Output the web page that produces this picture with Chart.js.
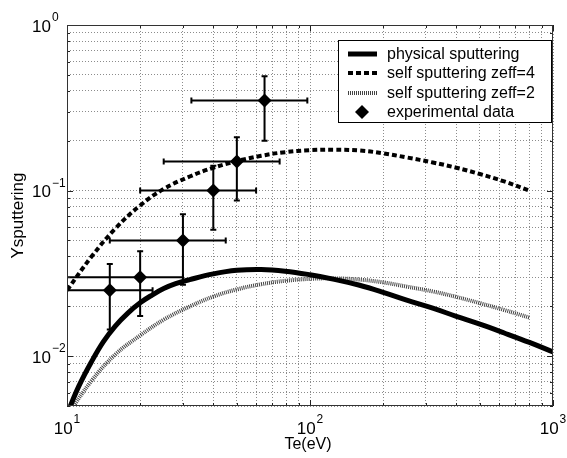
<!DOCTYPE html>
<html>
<head>
<meta charset="utf-8">
<title>Ysputtering vs Te</title>
<script src="https://cdn.jsdelivr.net/npm/chart.js@4/dist/chart.umd.min.js"></script>
<style>
  body { margin: 0; background: #fff; }
  canvas { display: block; }
</style>
</head>
<body>
<canvas id="chart" width="567" height="458"></canvas>
<script>
// physical sputtering yield
const physT = [10, 11.2, 12.6, 14.1, 15.8, 17.8, 20, 22.4, 25, 28, 32, 40, 50, 63, 79, 100, 126, 160, 200, 250, 320, 400, 500, 630, 800, 1000]
const physY = [0.00447, 0.00661, 0.00923, 0.0122, 0.0152, 0.0182, 0.0210, 0.0234, 0.0256, 0.0274, 0.0290, 0.0314, 0.0330, 0.0334, 0.0326, 0.0310, 0.0291, 0.0268, 0.0243, 0.0218, 0.0195, 0.0174, 0.0156, 0.0138, 0.0121, 0.0106]

// self sputtering, zeff = 4
const self4T = [10, 12.6, 15.8, 20, 25, 32, 40, 50, 63, 79, 100, 126, 160, 200, 250, 320, 400, 500, 630, 800]
const self4Y = [0.025, 0.0398, 0.0589, 0.0813, 0.1023, 0.1216, 0.1374, 0.1507, 0.1622, 0.1706, 0.1754, 0.1766, 0.1746, 0.1679, 0.1585, 0.1479, 0.1374, 0.1259, 0.1135, 0.100]

// self sputtering, zeff = 2
const self2T = [10, 12.6, 15.8, 20, 25, 32, 40, 50, 63, 79, 100, 126, 160, 200, 250, 320, 400, 500, 630, 800]
const self2Y = [0.00437, 0.00708, 0.01023, 0.01334, 0.0166, 0.01995, 0.0229, 0.0253, 0.0272, 0.0285, 0.0293, 0.0295, 0.0290, 0.0279, 0.0263, 0.0246, 0.0228, 0.0209, 0.0190, 0.0171]

// experimental points with error ranges
const expT = [15, 20, 30, 40, 50, 65]
const expY = [0.025, 0.03, 0.05, 0.1, 0.15, 0.35]
const expTLow = [7.5, 10, 15, 20, 25, 32.5]
const expTHigh = [22.5, 30, 45, 60, 75, 97.5]
const expYLow = [0.0145, 0.0175, 0.027, 0.058, 0.087, 0.2]
const expYHigh = [0.036, 0.043, 0.072, 0.141, 0.21, 0.49]

// decade tick labels (exponents)
const xExps = [1, 2, 3]
const yExps = [0, -1, -2]

const FONT = "'Liberation Sans', Arial, Helvetica, sans-serif"

const toPoints = (xs, ys) => xs.map((v, i) => ({x: v, y: ys[i]}))

// 1..9 x 10^n between min and max
const logTicks = (min, max) => {
  const ticks = []
  for (let e = Math.floor(Math.log10(min)); e <= Math.ceil(Math.log10(max)); e++) {
    for (let m = 1; m < 10; m++) {
      const v = +(m * Math.pow(10, e)).toPrecision(6)
      if (v >= min - 1e-12 && v <= max + 1e-12) ticks.push({value: v})
    }
  }
  return ticks
}

const isDecade = v => Math.abs(Math.log10(v) - Math.round(Math.log10(v))) < 1e-9

const datasets = [
  {
    label: 'physical sputtering',
    data: toPoints(physT, physY),
    showLine: true, borderColor: '#000', borderWidth: 5,
    pointRadius: 0, tension: 0.4
  },
  {
    label: 'self sputtering zeff=4',
    data: toPoints(self4T, self4Y),
    showLine: true, borderColor: '#000', borderWidth: 4, borderDash: [5, 3],
    pointRadius: 0, tension: 0.4
  },
  {
    label: 'self sputtering zeff=2',
    data: toPoints(self2T, self2Y),
    showLine: true, borderColor: '#444', borderWidth: 4, borderDash: [1, 1],
    pointRadius: 0, tension: 0.4
  },
  {
    label: 'experimental data',
    data: toPoints(expT, expY),
    showLine: false, pointStyle: 'rectRot', pointRadius: 7,
    backgroundColor: '#000', borderColor: '#000', borderWidth: 0
  }
]

// 10 with a raised exponent
const drawPow = (ctx, exp, x, y, align) => {
  const base = '10'
  const sup = exp < 0 ? '\u2212' + Math.abs(exp) : String(exp)
  ctx.font = '17px ' + FONT
  const wb = ctx.measureText(base).width
  ctx.font = '12px ' + FONT
  const ws = ctx.measureText(sup).width
  let x0 = x
  if (align === 'center') x0 = x - (wb + ws + 1) / 2
  ctx.textAlign = 'left'
  ctx.textBaseline = 'middle'
  ctx.font = '17px ' + FONT
  ctx.fillText(base, x0, y)
  ctx.font = '12px ' + FONT
  ctx.fillText(sup, x0 + wb + 1, y - 9)
}

// error bars behind the diamonds
const errorBars = {
  id: 'errorBars',
  beforeDatasetsDraw(chart) {
    const {ctx, chartArea: a, scales: {x, y}} = chart
    const cap = 3
    ctx.save()
    ctx.beginPath()
    ctx.rect(a.left, a.top, a.right - a.left, a.bottom - a.top)
    ctx.clip()
    ctx.strokeStyle = '#000'
    ctx.lineWidth = 2
    expT.forEach((t, i) => {
      const px = x.getPixelForValue(t)
      const py = y.getPixelForValue(expY[i])
      const xl = x.getPixelForValue(expTLow[i])
      const xh = x.getPixelForValue(expTHigh[i])
      const yl = y.getPixelForValue(expYLow[i])
      const yh = y.getPixelForValue(expYHigh[i])
      ctx.beginPath()
      ctx.moveTo(xl, py); ctx.lineTo(xh, py)
      ctx.moveTo(xl, py - cap); ctx.lineTo(xl, py + cap)
      ctx.moveTo(xh, py - cap); ctx.lineTo(xh, py + cap)
      ctx.moveTo(px, yl); ctx.lineTo(px, yh)
      ctx.moveTo(px - cap, yl); ctx.lineTo(px + cap, yl)
      ctx.moveTo(px - cap, yh); ctx.lineTo(px + cap, yh)
      ctx.stroke()
    })
    ctx.restore()
  }
}

// box, inward ticks, labels, titles and legend
const frame = {
  id: 'frame',
  afterDraw(chart) {
    const {ctx, chartArea: a, scales: {x, y}} = chart
    ctx.save()
    ctx.fillStyle = '#000'
    ctx.strokeStyle = '#222'
    ctx.lineWidth = 1

    // inward tick marks on all four sides
    ctx.beginPath()
    x.ticks.forEach(t => {
      const px = Math.round(x.getPixelForValue(t.value)) + 0.5
      const len = isDecade(t.value) ? 6 : 3
      ctx.moveTo(px, a.bottom); ctx.lineTo(px, a.bottom - len)
      ctx.moveTo(px, a.top); ctx.lineTo(px, a.top + len)
    })
    y.ticks.forEach(t => {
      const py = Math.round(y.getPixelForValue(t.value)) + 0.5
      const len = isDecade(t.value) ? 6 : 3
      ctx.moveTo(a.left, py); ctx.lineTo(a.left + len, py)
      ctx.moveTo(a.right, py); ctx.lineTo(a.right - len, py)
    })
    ctx.stroke()

    ctx.strokeStyle = '#333'
    ctx.strokeRect(a.left + 0.5, a.top + 0.5, a.right - a.left - 1, a.bottom - a.top - 1)

    // decade labels
    xExps.forEach(e => drawPow(ctx, e, x.getPixelForValue(Math.pow(10, e)), a.bottom + 23, 'center'))
    yExps.forEach(e => drawPow(ctx, e, 32, y.getPixelForValue(Math.pow(10, e)) + 2, 'left'))

    // axis titles
    ctx.font = '16px ' + FONT
    ctx.textAlign = 'center'
    ctx.textBaseline = 'middle'
    ctx.fillText('Te(eV)', (a.left + a.right) / 2 - 2, 445)
    ctx.save()
    ctx.translate(18, (a.top + a.bottom) / 2)
    ctx.rotate(-Math.PI / 2)
    ctx.font = '17px ' + FONT
    ctx.fillText('Ysputtering', 0, 0)
    ctx.restore()

    // legend
    const lx = 338, ly = 40, lw = 213, lh = 82
    ctx.fillStyle = '#fff'
    ctx.fillRect(lx, ly, lw, lh)
    ctx.strokeStyle = '#000'
    ctx.lineWidth = 1
    ctx.strokeRect(lx + 0.5, ly + 0.5, lw, lh)
    const rows = [54, 73, 93, 112]
    chart.data.datasets.forEach((ds, i) => {
      const ry = rows[i]
      ctx.save()
      if (ds.showLine) {
        ctx.strokeStyle = ds.borderColor
        ctx.lineWidth = ds.borderWidth
        ctx.setLineDash(ds.borderDash || [])
        ctx.beginPath()
        ctx.moveTo(348, ry); ctx.lineTo(377, ry)
        ctx.stroke()
      } else {
        ctx.fillStyle = '#000'
        ctx.beginPath()
        ctx.moveTo(362, ry - 7); ctx.lineTo(369, ry)
        ctx.lineTo(362, ry + 7); ctx.lineTo(355, ry)
        ctx.closePath()
        ctx.fill()
      }
      ctx.restore()
      ctx.fillStyle = '#000'
      ctx.font = '16px ' + FONT
      ctx.textAlign = 'left'
      ctx.textBaseline = 'middle'
      ctx.fillText(ds.label, 387, ry + 1)
    })
    ctx.restore()
  }
}

const gridOpts = {color: '#8c8c8c', lineWidth: 1, drawTicks: false}

const chart = new Chart(document.getElementById('chart'), {
  type: 'scatter',
  data: {datasets: datasets},
  options: {
    responsive: false,
    animation: false,
    devicePixelRatio: 1,
    layout: {padding: {top: 25, right: 14, left: 0, bottom: 0}},
    plugins: {legend: {display: false}, tooltip: {enabled: false}},
    scales: {
      x: {
        type: 'logarithmic', min: 10, max: 1000,
        ticks: {display: false},
        grid: gridOpts,
        border: {display: false, dash: [1, 2]},
        afterBuildTicks: s => { s.ticks = logTicks(10, 1000) },
        afterFit: s => { s.height = 52 }
      },
      y: {
        type: 'logarithmic', min: 0.005, max: 1,
        ticks: {display: false},
        grid: gridOpts,
        border: {display: false, dash: [1, 2]},
        afterBuildTicks: s => { s.ticks = logTicks(0.005, 1) },
        afterFit: s => { s.width = 67 }
      }
    }
  },
  plugins: [errorBars, frame]
})
</script>
</body>
</html>
